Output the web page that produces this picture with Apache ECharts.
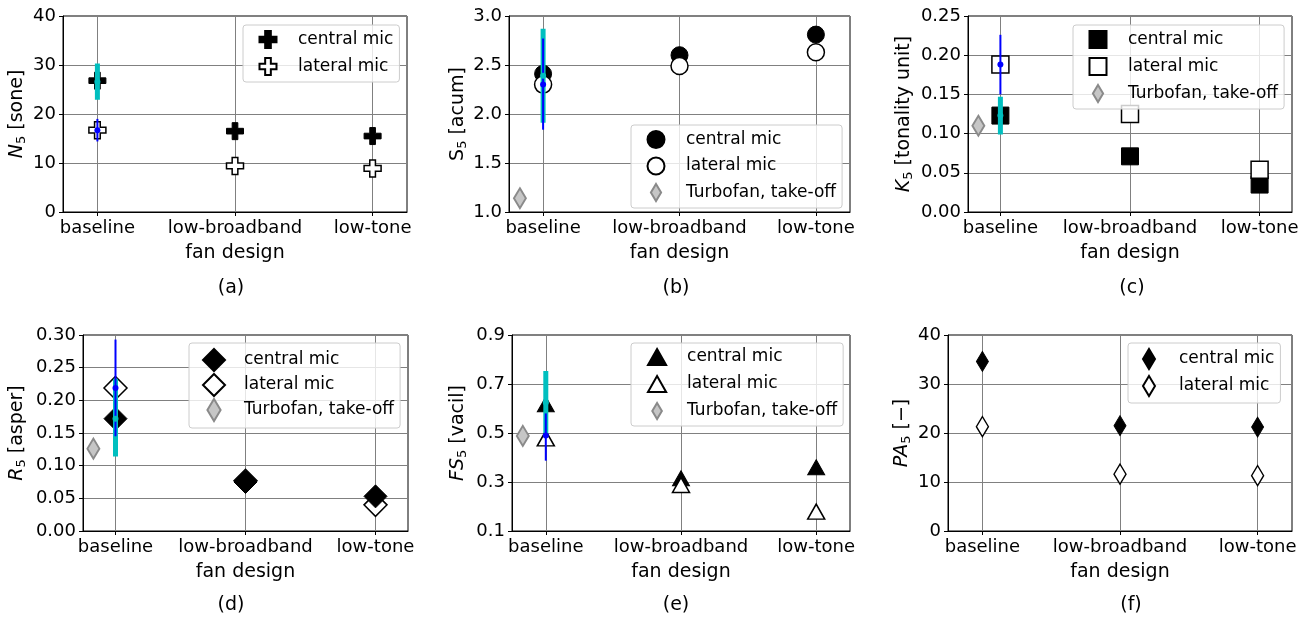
<!DOCTYPE html>
<html>
<head>
<meta charset="utf-8">
<script src="https://cdn.jsdelivr.net/npm/echarts@6/dist/echarts.min.js"></script>
<style>
  html, body { margin: 0; padding: 0; background: #fff; }
  #chart { width: 1309px; height: 621px; }
</style>
</head>
<body>
<div id="chart"></div>
<script>
const categories = ['baseline', 'low-broadband', 'low-tone']
const designX = [0, 1, 2]
const turbofanX = -0.17

// (a) N5 [sone]
const loudTicks = [0, 10, 20, 30, 40]
const loudCentral = [26.8, 16.5, 15.5]
const loudLateral = [16.7, 9.4, 8.9]
const loudCentralBar = [22.9, 26.6, 30.3] // low, mean, high
const loudLateralBar = [14.4, 16.7, 19.0]

// (b) S5 [acum]
const sharpTicks = [1.0, 1.5, 2.0, 2.5, 3.0]
const sharpCentral = [2.41, 2.60, 2.81]
const sharpLateral = [2.30, 2.49, 2.63]
const sharpTurbofan = 1.14
const sharpCentralBar = [1.91, 2.39, 2.87]
const sharpLateralBar = [1.84, 2.30, 2.77]

// (c) K5 [tonality unit]
const tonTicks = [0, 0.05, 0.10, 0.15, 0.20, 0.25]
const tonCentral = [0.123, 0.071, 0.035]
const tonLateral = [0.188, 0.125, 0.054]
const tonTurbofan = 0.110
const tonCentralBar = [0.099, 0.123, 0.147]
const tonLateralBar = [0.150, 0.188, 0.226]

// (d) R5 [asper]
const roughTicks = [0, 0.05, 0.10, 0.15, 0.20, 0.25, 0.30]
const roughCentral = [0.172, 0.075, 0.053]
const roughLateral = [0.219, 0.077, 0.040]
const roughTurbofan = 0.126
const roughCentralBar = [0.114, 0.172, 0.233]
const roughLateralBar = [0.145, 0.219, 0.293]

// (e) FS5 [vacil]
const fluctTicks = [0.1, 0.3, 0.5, 0.7, 0.9]
const fluctCentral = [0.617, 0.315, 0.360]
const fluctLateral = [0.478, 0.288, 0.179]
const fluctTurbofan = 0.488
const fluctCentralBar = [0.499, 0.625, 0.753]
const fluctLateralBar = [0.387, 0.490, 0.580]

// (f) PA5 [-]
const annTicks = [0, 10, 20, 30, 40]
const annCentral = [34.6, 21.5, 21.2]
const annLateral = [21.3, 11.6, 11.3]

const FONT = 'DejaVu Sans'
const PLUS = 'path://M-1,-3L1,-3L1,-1L3,-1L3,1L1,1L1,3L-1,3L-1,1L-3,1L-3,-1L-1,-1Z'
const THIN_D = 'path://M0,-10L6,0L0,10L-6,0Z'
const SQUARE = 'path://M-1,-1L1,-1L1,1L-1,1Z'
const DIAMOND = 'path://M0,-1L1,0L0,1L-1,0Z'
const TRIANGLE = 'path://M0,-15L8.5,0L-8.5,0Z'

const styles = {
  central: { color: '#000', borderColor: '#000', borderWidth: 1, opacity: 1 },
  lateral: { color: '#fff', borderColor: '#000', borderWidth: 1.5, opacity: 1 },
  turbofan: { color: '#c6c6c6', borderColor: '#8a8a8a', borderWidth: 2, opacity: 1 }
}

const panels = [
  { box: [63, 16, 344, 196], leg: [243, 25, 17, 8], gap: 35, digits: 0, ticks: loudTicks,
    name: '{i|N}{s|5} [sone]', symbol: PLUS, size: 17,
    central: loudCentral, lateral: loudLateral, cBar: loudCentralBar, lBar: loudLateralBar,
    caption: ['(a)', 231, 288] },
  { box: [509, 16, 341, 196], leg: [631, 125, 17, 7.5], gap: 40, digits: 1, ticks: sharpTicks,
    name: '{r|S}{s|5} [acum]', symbol: 'circle', size: 17, turbofan: sharpTurbofan,
    central: sharpCentral, lateral: sharpLateral, cBar: sharpCentralBar, lBar: sharpLateralBar,
    caption: ['(b)', 676, 288] },
  { box: [968, 16, 324, 196], leg: [1073, 25, 17, 8], gap: 53, digits: 2, ticks: tonTicks,
    name: '{i|K}{s|5} [tonality unit]', symbol: SQUARE, size: 17, turbofan: tonTurbofan,
    central: tonCentral, lateral: tonLateral, cBar: tonCentralBar, lBar: tonLateralBar,
    caption: ['(c)', 1132, 288] },
  { box: [83, 335, 325, 196], leg: [189, 343, 22, 1], gap: 55, digits: 2, ticks: roughTicks,
    name: '{i|R}{s|5} [asper]', symbol: DIAMOND, size: 23, turbofan: roughTurbofan,
    central: roughCentral, lateral: roughLateral, cBar: roughCentralBar, lBar: roughLateralBar,
    centralOnTop: true, caption: ['(d)', 231, 605] },
  { box: [512, 335, 338, 196], leg: [631, 343, 16, 9], gap: 43, digits: 1, ticks: fluctTicks,
    name: '{i|FS}{s|5} [vacil]', symbol: TRIANGLE, size: [17, 15], turbofan: fluctTurbofan,
    central: fluctCentral, lateral: fluctLateral, cBar: fluctCentralBar, lBar: fluctLateralBar,
    caption: ['(e)', 676, 605] },
  { box: [948, 335, 344, 196], leg: [1128, 343, 20, 5], gap: 35, digits: 0, ticks: annTicks,
    name: '{i|PA}{s|5} [\u2212]', symbol: THIN_D, size: [12, 20],
    central: annCentral, lateral: annLateral,
    caption: ['(f)', 1131, 605] }
]

const grid = []
const xAxis = []
const yAxis = []
const legend = []
const series = []
const graphic = []

const nameRich = {
  i: { fontFamily: FONT, fontSize: 19, fontStyle: 'italic', color: '#000', lineHeight: 22 },
  r: { fontFamily: FONT, fontSize: 19, color: '#000', lineHeight: 22 },
  s: { fontFamily: FONT, fontSize: 13, color: '#000', lineHeight: 13, verticalAlign: 'bottom' }
}

function markerSeries(k, name, values, p, style, z) {
  return {
    name: name, type: 'scatter', xAxisIndex: k, yAxisIndex: k, z: z,
    symbol: p.symbol, symbolSize: p.size, itemStyle: style, silent: true,
    data: values.map((v, i) => [designX[i], v])
  }
}

function barSeries(k, bar, color, width, dot) {
  return [{
    type: 'line', xAxisIndex: k, yAxisIndex: k, silent: true, showSymbol: false, z: 5,
    lineStyle: { color: color, width: width, opacity: 1 },
    data: [[designX[0], bar[0]], [designX[0], bar[2]]]
  }, {
    type: 'scatter', xAxisIndex: k, yAxisIndex: k, silent: true, z: 5,
    symbol: 'circle', symbolSize: dot, itemStyle: { color: color, opacity: 1 },
    data: [[designX[0], bar[1]]]
  }]
}

panels.forEach((p, k) => {
  grid.push({
    left: p.box[0], top: p.box[1], width: p.box[2], height: p.box[3],
    show: true, borderColor: '#000', borderWidth: 1
  })
  xAxis.push({
    gridIndex: k, type: 'value', min: -0.25, max: 2.25,
    name: 'fan design', nameLocation: 'middle', nameGap: 32,
    nameTextStyle: { fontFamily: FONT, fontSize: 19, color: '#000' },
    axisLine: { onZero: false, lineStyle: { color: '#000' } },
    axisTick: { customValues: designX, length: 4, lineStyle: { color: '#000' } },
    axisLabel: {
      customValues: designX, margin: 7, color: '#000', fontFamily: FONT, fontSize: 18,
      formatter: v => categories[Math.round(v)]
    },
    splitLine: { show: true, lineStyle: { color: '#808080', width: 1 } }
  })
  yAxis.push({
    gridIndex: k, type: 'value', min: p.ticks[0], max: p.ticks[p.ticks.length - 1],
    name: p.name, nameLocation: 'middle', nameGap: p.gap, nameRotate: 90,
    nameTextStyle: { rich: nameRich, fontFamily: FONT, fontSize: 19, color: '#000' },
    axisLine: { show: true, onZero: false, lineStyle: { color: '#000' } },
    axisTick: { show: true, customValues: p.ticks, length: 4, lineStyle: { color: '#000' } },
    axisLabel: {
      customValues: p.ticks, margin: 7, color: '#000', fontFamily: FONT, fontSize: 18,
      formatter: v => v.toFixed(p.digits)
    },
    splitLine: { show: true, lineStyle: { color: '#808080', width: 1 } }
  })

  const items = [
    { name: 'central mic', icon: p.symbol },
    { name: 'lateral mic', icon: p.symbol }
  ]
  if (p.turbofan !== undefined) items.push({ name: 'Turbofan, take-off', icon: THIN_D })
  legend.push({
    left: p.leg[0], top: p.leg[1], orient: 'vertical',
    itemWidth: 50, itemHeight: p.leg[2], itemGap: p.leg[3],
    padding: [5, 6, 6, 24 - p.leg[2] / 2], borderColor: '#cccccc', borderWidth: 1, borderRadius: 3,
    backgroundColor: 'rgba(255,255,255,0.8)', selectedMode: false,
    textStyle: { fontFamily: FONT, fontSize: 17, color: '#000' },
    data: items
  })

  // in (d) the filled markers sit above the open ones
  const cz = p.centralOnTop ? 3 : 2
  series.push(markerSeries(k, 'central mic', p.central, p, styles.central, cz))
  series.push(markerSeries(k, 'lateral mic', p.lateral, p, styles.lateral, 2))
  if (p.turbofan !== undefined) {
    series.push({
      name: 'Turbofan, take-off', type: 'scatter', xAxisIndex: k, yAxisIndex: k, silent: true,
      symbol: THIN_D, symbolSize: [12, 20], itemStyle: styles.turbofan,
      data: [[turbofanX, p.turbofan]]
    })
  }
  if (p.cBar) series.push(...barSeries(k, p.cBar, '#00bfbf', 5, 6))
  if (p.lBar) series.push(...barSeries(k, p.lBar, '#0000ff', 2, 6))

  graphic.push({
    type: 'text', x: p.caption[1], y: p.caption[2],
    style: { text: p.caption[0], fontFamily: FONT, fontSize: 19, fill: '#000', align: 'center', verticalAlign: 'middle' }
  })
})

const chart = echarts.init(document.getElementById('chart'))
chart.setOption({
  animation: false,
  backgroundColor: '#fff',
  grid: grid,
  xAxis: xAxis,
  yAxis: yAxis,
  legend: legend,
  series: series,
  graphic: graphic
})
</script>
</body>
</html>
